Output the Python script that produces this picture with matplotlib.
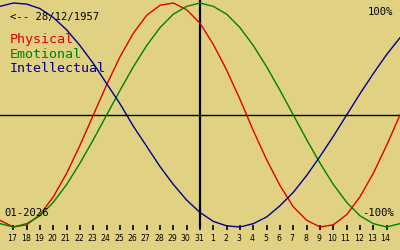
import matplotlib
matplotlib.use("Agg")
import matplotlib.pyplot as plt
import numpy as np

# Day offsets relative to 31 Dec (vertical marker)
day_offsets = list(range(-15, 16))
day_labels = ["16", "17", "18", "19", "20", "21", "22", "23", "24", "25", "26", "27", "28", "29", "30", "31",
              "1", "2", "3", "4", "5", "6", "7", "8", "9", "10", "11", "12", "13", "14", "15"]

physical = [-0.94, -1.00, -0.98, -0.89, -0.73, -0.52, -0.27, 0.00, 0.27, 0.52, 0.73, 0.89, 0.98, 1.00, 0.94,
            0.82, 0.63, 0.40, 0.14, -0.14, -0.40, -0.63, -0.82, -0.94, -1.00, -0.98, -0.89, -0.73, -0.52, -0.27, 0.00]
emotional = [-0.97, -1.00, -0.97, -0.90, -0.78, -0.62, -0.43, -0.22, 0.00, 0.22, 0.43, 0.62, 0.78, 0.90, 0.97,
             1.00, 0.97, 0.90, 0.78, 0.62, 0.43, 0.22, 0.00, -0.22, -0.43, -0.62, -0.78, -0.90, -0.97, -1.00, -0.97]
intellectual = [0.97, 1.00, 0.99, 0.95, 0.87, 0.76, 0.62, 0.46, 0.28, 0.10, -0.10, -0.28, -0.46, -0.62, -0.76,
                -0.87, -0.95, -0.99, -1.00, -0.97, -0.91, -0.81, -0.69, -0.54, -0.37, -0.19, 0.00, 0.19, 0.37, 0.54, 0.69]

series_names = ["Physical", "Emotional", "Intellectual"]
series_colors = ["#e00000", "#008000", "#000090"]

BG = "#e0d282"
W, H = 400, 250
fig = plt.figure(figsize=(W / 100, H / 100), dpi=100, facecolor=BG)
ax = fig.add_axes([0, 0, 1, 1])
ax.set_facecolor(BG)
for s in ax.spines.values():
    s.set_visible(False)
ax.set_xticks([])
ax.set_yticks([])

# pixel mapping: zero line at 115 px from top, amplitude 112 px
px_per_day = W / 30.0
ax.set_xlim(-15, 15)
ax.set_ylim(-135 / 112.0, (H - 135) / 112.0)

def py(pix_from_top):
    return (H - 135 - pix_from_top) / 112.0

# axes lines
ax.axhline(0, color="black", lw=1.0, zorder=2)
ax.plot([0, 0], [py(0), py(228)], color="black", lw=1.6, zorder=2, solid_capstyle="butt")

for vals, c in zip([physical, emotional, intellectual], series_colors):
    ax.plot(day_offsets, vals, color=c, lw=1.0, zorder=3)

# ticks and labels
for d, lab in zip(day_offsets, day_labels):
    if d == -15 or d == 15:
        continue
    ax.plot([d, d], [py(225), py(230)], color="black", lw=1.2, solid_capstyle="butt", zorder=2)
    ax.text(d - 0.08, py(238), lab, fontsize=5.6, family="DejaVu Sans",
            ha="center", va="center", color="black")

mono = "DejaVu Sans Mono"
ax.text(-15 + 10 / px_per_day, py(17), "<-- 28/12/1957", fontsize=7.6, family=mono,
        ha="left", va="center", color="black")
for i, (name, c) in enumerate(zip(series_names, series_colors)):
    ax.text(-15 + 9.5 / px_per_day, py(39 + 15 * i), name, fontsize=9.6, family=mono,
            ha="left", va="center", color=c)
ax.text(-15 + 393 / px_per_day, py(12), "100%", fontsize=7.6, family=mono,
        ha="right", va="center", color="black")
ax.text(-15 + 394 / px_per_day, py(212.5), "-100%", fontsize=7.6, family=mono,
        ha="right", va="center", color="black")
ax.text(-15 + 4.5 / px_per_day, py(212.5), "01-2026", fontsize=7.6, family=mono,
        ha="left", va="center", color="black")

fig.savefig("out.png", dpi=100, facecolor=BG)
